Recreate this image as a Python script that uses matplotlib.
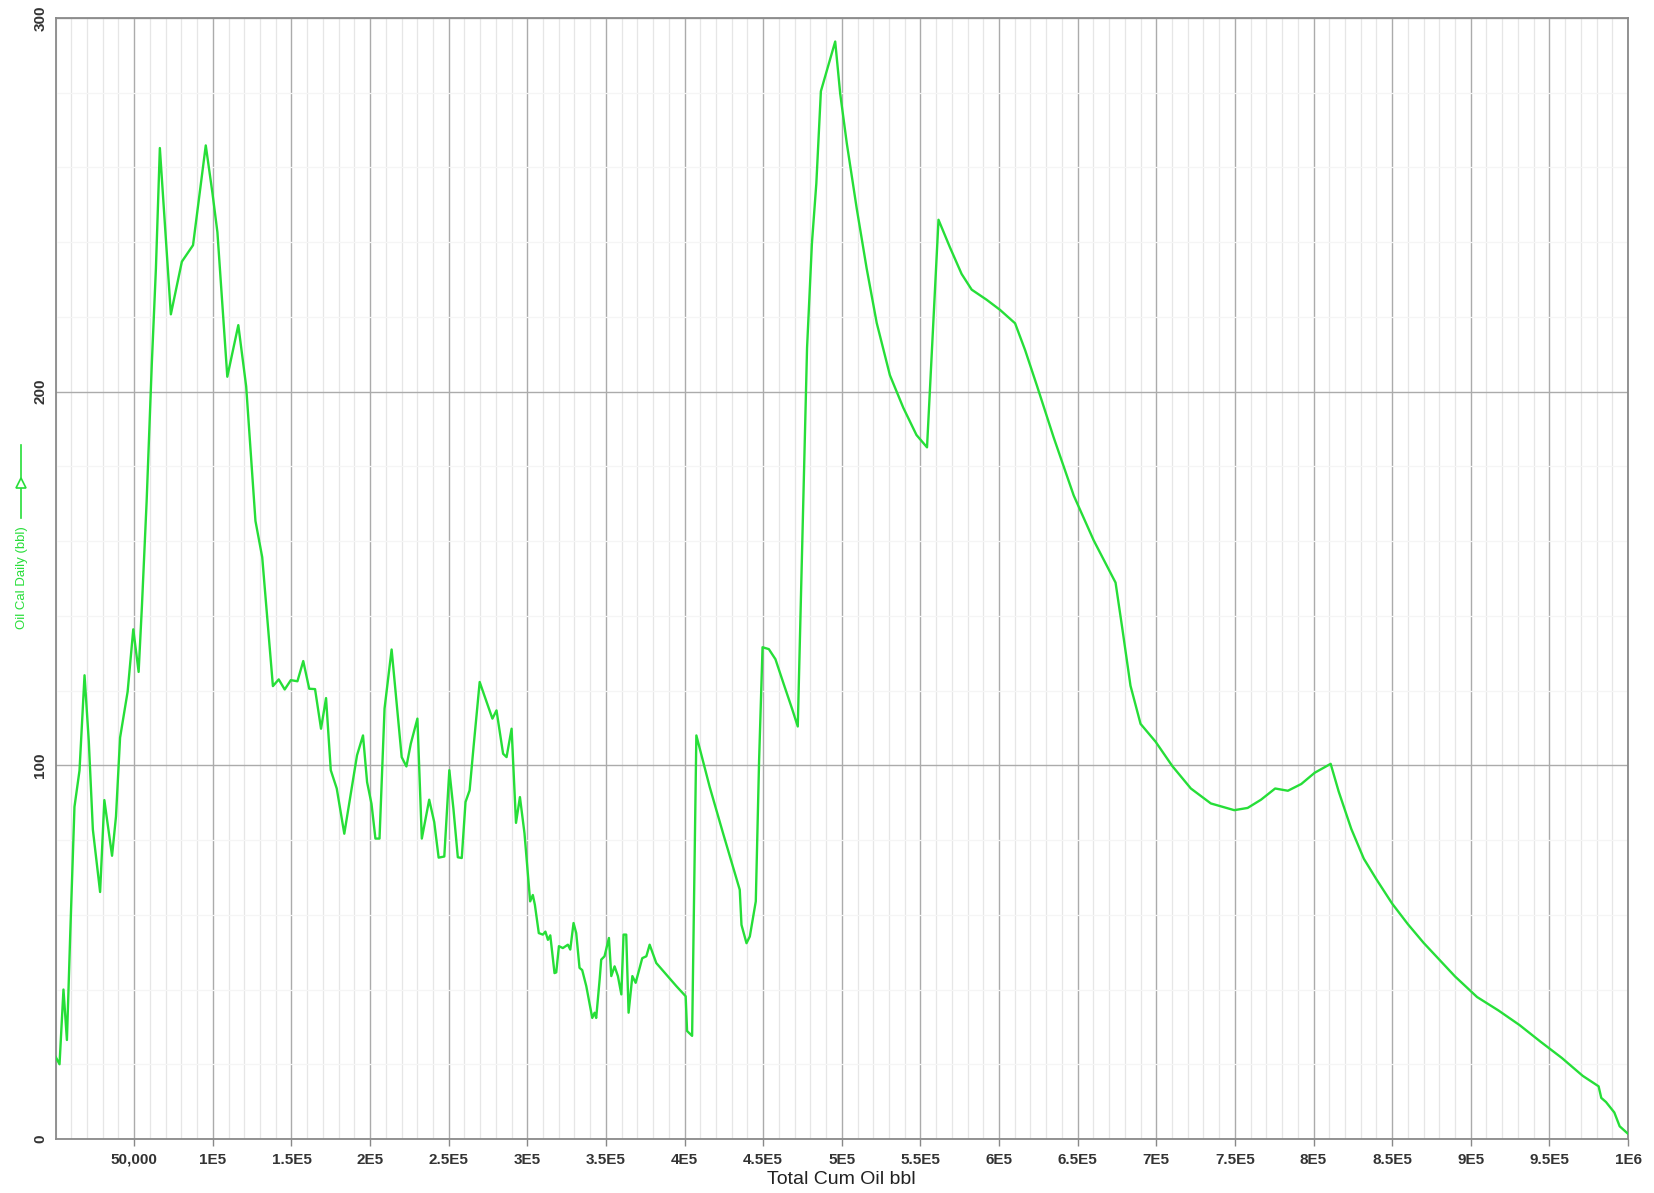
import matplotlib
matplotlib.use("Agg")
import matplotlib.pyplot as plt
from matplotlib.lines import Line2D
import numpy as np

# cumulative oil (thousand bbl) and calendar-day oil rate (bbl/d)
cum_oil_k = [
    0, 2.5, 5, 7.2, 9.3, 12, 15.2, 18.4, 21.1, 23.7, 28.3, 31, 35.9, 38.4, 41,
    45.8, 49.4, 52.8, 54.9, 57.9, 61.2, 63.8, 66.3, 73.3, 80.3, 87.4, 95.5,
    99.7, 102.9, 109.2, 116.2, 121.2, 127.1, 131.4, 138.2, 141.9, 145.7, 149.6,
    153.8, 157.5, 161.3, 165, 168.8, 172, 175, 178.8, 183.6, 191.7, 195.5,
    198.1, 200.9, 203.4, 206, 209.2, 213.7, 220.1, 223.1, 225.9, 230.1, 232.9,
    237.6, 240.8, 243.6, 247.2, 250.4, 253, 255.8, 258.3, 260.7, 263.3, 265.8,
    269.7, 277.8, 280.4, 284.6, 286.8, 290, 292.8, 295.3, 298.2, 301.8, 303.5,
    304.8, 307.3, 309.9, 311.5, 313.1, 314.6, 317.3, 318.4, 320.1, 322.6, 325.8,
    327.3, 329.4, 331.1, 333.2, 334.9, 337.5, 341.3, 342.8, 343.8, 346, 347,
    349.1, 351.9, 353.4, 355.5, 357.6, 359.8, 361.2, 362.9, 364.4, 366.8, 368.9,
    373.1, 375.7, 377.8, 382, 388.4, 394.8, 400.7, 401.6, 404.8, 407.5, 416,
    424.5, 435.1, 436.2, 439.4, 441.5, 445.3, 447.4, 449.6, 453.6, 457.8, 463.1,
    468.4, 472, 475.3, 477.9, 481, 483.8, 486.7, 495.8, 499, 503.2, 509.5,
    515.8, 522.2, 530.6, 539.1, 547.5, 554.2, 561.5, 568.7, 576.2, 582.6, 592.1,
    600.6, 610.2, 616.6, 624.1, 634.7, 647.5, 660.2, 674.1, 678.3, 683.6, 690,
    699.6, 710.2, 722, 734.7, 749.6, 758.1, 766.6, 775.6, 783.7, 792.2, 800.7,
    810.9, 816, 824, 832, 840, 850, 860, 870, 880, 890, 904, 917.6, 931, 944.5,
    957.9, 971.2, 981.3, 983, 986, 991.3, 994.7, 1000,
]
oil_rate = [
    22, 20, 40, 26.5, 54.7, 88.9, 98.6, 124.1, 106.5, 82.8, 66.1, 90.7, 75.8,
    86.3, 107.4, 119.7, 136.4, 125, 142.6, 170.7, 207.6, 233, 265.2, 220.7,
    234.8, 239.2, 265.9, 253.3, 242.7, 204, 217.8, 201.4, 165.4, 155.7, 121.2,
    123, 120.3, 122.8, 122.5, 127.9, 120.5, 120.4, 109.8, 118, 98.7, 93.8, 81.7,
    102.7, 108, 95.5, 89.7, 80.4, 80.4, 115.2, 131, 102.2, 99.7, 105.8, 112.5,
    80.4, 90.8, 84.8, 75.3, 75.6, 98.7, 88.4, 75.4, 75.2, 90.2, 93.3, 104.9,
    122.3, 112.5, 114.7, 103.1, 102.2, 109.8, 84.6, 91.5, 81.8, 63.6, 65.3,
    62.7, 55.1, 54.7, 55.5, 53.3, 54.5, 44.4, 44.6, 51.6, 51.1, 52, 50.7, 57.8,
    55.1, 45.8, 45.2, 40.9, 32.4, 33.8, 32.4, 42.7, 48, 48.9, 53.8, 43.6, 46.2,
    43.6, 38.7, 54.7, 54.7, 33.8, 43.6, 41.8, 48.4, 48.9, 52, 47.1, 44, 40.9,
    38.2, 28.9, 27.6, 108, 94.2, 81.8, 66.7, 57.3, 52.4, 54.2, 63.6, 101.3,
    131.6, 131.1, 128.4, 121.7, 115.1, 110.4, 166.4, 211.7, 239.7, 255.7, 280.4,
    293.7, 279.7, 266.4, 249, 233, 218.4, 204.4, 195.7, 188.4, 185.1, 246,
    238.7, 231.5, 227.3, 224.6, 221.9, 218.3, 211.1, 201.6, 187.8, 172.2, 160.2,
    148.9, 136.9, 121.3, 111.1, 106.3, 99.8, 93.8, 89.8, 88, 88.6, 90.8, 93.8,
    93.2, 95, 98, 100.4, 93, 83, 75, 69.5, 63, 57.5, 52.5, 48, 43.5, 38, 34.4,
    30.5, 26, 21.7, 16.9, 14.1, 11, 9.9, 7.1, 3.4, 1.4,
]

x_ticks = [50000 * i for i in range(1, 21)]
x_tick_labels = ["50,000", "1E5", "1.5E5", "2E5", "2.5E5", "3E5", "3.5E5",
                 "4E5", "4.5E5", "5E5", "5.5E5", "6E5", "6.5E5", "7E5",
                 "7.5E5", "8E5", "8.5E5", "9E5", "9.5E5", "1E6"]
y_ticks = [0, 100, 200, 300]

GREEN = "#26de38"
plt.rcParams["font.family"] = ["Liberation Sans", "DejaVu Sans"]

W, H = 1654, 1193
fig = plt.figure(figsize=(W / 100, H / 100), dpi=100)
ax = fig.add_axes([55.6 / W, 1 - 1139 / H, (1628 - 55.6) / W, (1139 - 18) / H])

x = np.array(cum_oil_k) * 1000
ax.plot(x, oil_rate, color=GREEN, lw=1.7, zorder=3)

ax.set_xlim(0, 1e6)
ax.set_ylim(0, 300)

ax.set_xticks(x_ticks)
ax.set_xticklabels(x_tick_labels, fontsize=11, fontweight="bold", color="#333333")
ax.set_xticks(np.arange(0, 1e6 + 1, 10000), minor=True)
ax.set_yticks(y_ticks)
ax.set_yticklabels([str(v) for v in y_ticks], fontsize=11, fontweight="bold",
                   color="#333333", rotation=90, va="center")
ax.set_yticks(np.arange(0, 301, 20), minor=True)

ax.grid(which="major", color="#ababab", lw=1.0)
ax.grid(which="minor", axis="x", color="#e6e6e6", lw=0.9)
ax.grid(which="minor", axis="y", color="#f5f5f5", lw=0.9)
ax.set_axisbelow(True)

ax.tick_params(which="major", axis="x", length=5, width=1, color="#888888", pad=5)
ax.tick_params(which="major", axis="y", length=0, pad=6)
ax.tick_params(which="minor", length=0)
for s in ax.spines.values():
    s.set_color("#8a8a8a")
    s.set_linewidth(1.3)

ax.set_xlabel("Total Cum Oil bbl", fontsize=14, labelpad=3, color="#222222")

# y axis label with the small series arrow above it
fig.text(22 / W, 1 - 578 / H, "Oil Cal Daily (bbl)", rotation=90, color=GREEN,
         fontsize=9.5, ha="center", va="center")
fig.add_artist(Line2D([21 / W, 21 / W], [1 - 445 / H, 1 - 518 / H],
                      transform=fig.transFigure, color=GREEN, lw=1.2))
fig.add_artist(Line2D([21 / W], [1 - 483 / H], transform=fig.transFigure,
                      marker="^", markersize=7, markerfacecolor="white",
                      markeredgecolor=GREEN, markeredgewidth=1.2, ls="none"))

fig.savefig("out.png", dpi=100)
